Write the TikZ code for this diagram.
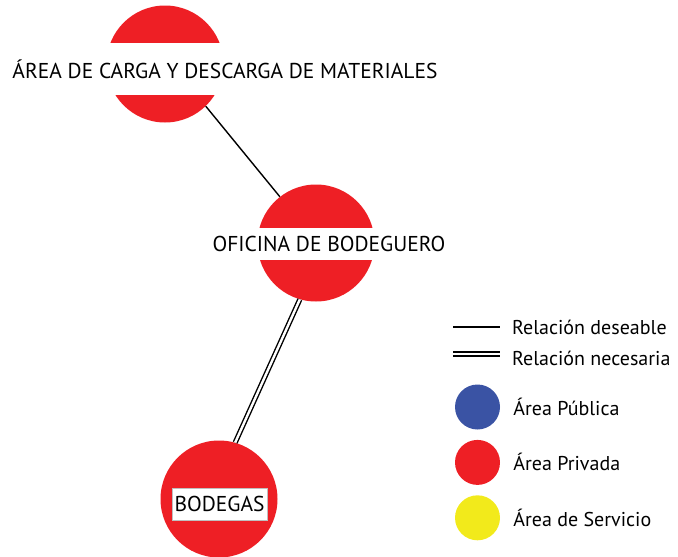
\documentclass[tikz,border=0pt]{standalone}
\usepackage{fontspec}
\setmainfont{PT Sans}
\usetikzlibrary{positioning}
\definecolor{areapublica}{HTML}{3A53A4}
\definecolor{areaprivada}{HTML}{EE1F25}
\definecolor{areaservicio}{HTML}{F2EA1B}

\begin{document}
\begin{tikzpicture}[
    x=1pt, y=-1pt,
    node distance=10pt and 13pt,
    zona/.style={circle, fill=areaprivada, minimum size=117pt, inner sep=0pt},
    banda/.style={fill=white, inner sep=0pt, font=\fontsize{21.5}{22}\selectfont},
    deseable/.style={line width=1.4pt},
    necesaria/.style={double, double distance=2.4pt, line width=1.4pt},
    muestra/.style={circle, minimum size=45pt, inner sep=0pt},
    leyenda/.style={anchor=west, inner sep=0pt, font=\fontsize{20}{22}\selectfont},
]
  \useasboundingbox (0,0) rectangle (678,557);

  % zonas
  \node[zona] (carga) at (165,64) {};
  \node[banda, minimum height=52pt] (cargatxt) at (225,69) {ÁREA DE CARGA Y DESCARGA DE MATERIALES};
  \node[zona] (oficina) at (316,243) {};
  \node[banda, minimum height=32pt] (oficinatxt) at (329,244) {OFICINA DE BODEGUERO};
  \node[zona] (bodegas) at (219,499) {};
  \node[banda, draw=black!25, line width=0.5pt, minimum width=95pt, minimum height=32pt] (bodegastxt) at (219.5,504) {BODEGAS};

  % relaciones
  \draw[deseable] (carga.-46) -- (oficina.128);
  \draw[necesaria] (oficina.-106) -- (bodegas.74);

  % leyenda
  \coordinate (des1) at (453,327);
  \coordinate (des2) at (500,327);
  \draw[deseable] (des1) -- (des2);
  \node[leyenda] (destxt) at (512,327) {Relación deseable};
  \coordinate (nec1) at (453,354);
  \coordinate (nec2) at (500,354);
  \draw[necesaria] (nec1) -- (nec2);
  \node[leyenda] (nectxt) at (512,358) {Relación necesaria};

  \node[muestra, fill=areapublica] (publica) at (477.5,407) {};
  \node[muestra, fill=areaprivada, below=of publica] (privada) {};
  \node[muestra, fill=areaservicio, below=of privada] (servicio) {};
  \node[leyenda, right=of publica] (publicatxt) {Área Pública};
  \node[leyenda, right=of privada] (privadatxt) {Área Privada};
  \node[leyenda, right=of servicio] (serviciotxt) {Área de Servicio};
\end{tikzpicture}
\end{document}
